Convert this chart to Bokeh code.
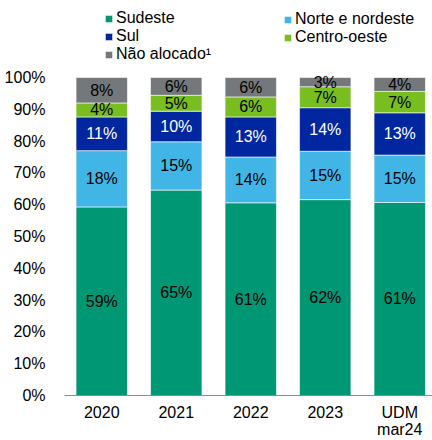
from bokeh.plotting import figure
from bokeh.models import ColumnDataSource, Legend, LegendItem, FixedTicker, PrintfTickFormatter
from bokeh.embed import file_html
from bokeh.resources import INLINE
from bokeh.core.properties import value

categories = ["2020", "2021", "2022", "2023", "UDM\nmar24"]
series = ["Sudeste", "Norte e nordeste", "Sul", "Centro-oeste", "Não alocado¹"]
sudeste = [59.3, 64.6, 60.6, 61.6, 60.7]
norte = [17.7, 15.2, 14.4, 15.2, 14.9]
sul = [10.6, 9.6, 12.6, 13.7, 13.3]
centro = [4.4, 5.0, 6.3, 6.6, 6.7]
nao_alocado = [8.0, 5.6, 6.1, 2.9, 4.4]
y_ticks = [0, 10, 20, 30, 40, 50, 60, 70, 80, 90, 100]

colors = ["#009775", "#41B6E6", "#0026A0", "#78BE20", "#75787B"]
label_colors = ["#000000", "#000000", "#ffffff", "#000000", "#000000"]
FONT = "Liberation Sans"
FS = "16px"

values = [sudeste, norte, sul, centro, nao_alocado]
keys = ["s0", "s1", "s2", "s3", "s4"]
xs = list(range(len(categories)))
data = {"x": xs}
for k, v in zip(keys, values):
    data[k] = v
source = ColumnDataSource(data)

W, H = 432, 440
BL, BB = 64, 45
frame_w = W - BL
frame_h = H - BB
pitch = 74.5
top_px = 77  # where 100% sits
px_per_unit = (frame_h - top_px) / 100.0

p = figure(width=W, height=H, output_backend="svg", toolbar_location=None,
           x_range=(-0.5, -0.5 + frame_w / pitch), y_range=(0, frame_h / px_per_unit),
           min_border_left=BL, min_border_right=0, min_border_top=0, min_border_bottom=BB)
p.outline_line_color = None
p.xgrid.grid_line_color = None
p.ygrid.grid_line_color = None
p.background_fill_color = "white"
p.border_fill_color = "white"

renderers = p.vbar_stack(keys, x="x", width=0.69, color=colors, source=source,
                         line_color="white", line_width=0.6)

# segment labels
lx, ly, lt, lc = [], [], [], []
for i in xs:
    bottom = 0.0
    for j, v in enumerate(values):
        lx.append(i)
        ly.append(bottom + v[i] / 2)
        lt.append(f"{v[i]:.0f}%")
        lc.append(label_colors[j])
        bottom += v[i]
lsrc = ColumnDataSource(dict(x=lx, y=ly, t=lt, c=lc))
p.text(x="x", y="y", text="t", text_color="c", source=lsrc, text_align="center",
       text_baseline="middle", text_font=value(FONT), text_font_size=FS)

# axes
p.xaxis.ticker = FixedTicker(ticks=xs)
p.xaxis.major_label_overrides = {i: c for i, c in zip(xs, categories)}
p.xaxis.major_tick_line_color = None
p.xaxis.minor_tick_line_color = None
p.xaxis.axis_line_color = "#8c8c8c"
p.xaxis.axis_line_width = 1
p.xaxis.major_label_text_font = FONT
p.xaxis.major_label_text_font_size = FS
p.xaxis.major_label_text_line_height = 1.0
p.xaxis.major_label_text_color = "#000000"
p.xaxis.major_label_standoff = 2

p.yaxis.ticker = FixedTicker(ticks=y_ticks)
p.yaxis.formatter = PrintfTickFormatter(format="%d%%")
p.yaxis.axis_line_color = None
p.yaxis.major_tick_line_color = None
p.yaxis.minor_tick_line_color = None
p.yaxis.major_label_text_font = FONT
p.yaxis.major_label_text_font_size = FS
p.yaxis.major_label_text_color = "#000000"
p.yaxis.major_label_standoff = 13

def make_legend(idxs, loc):
    items = [LegendItem(label=series[i], renderers=[renderers[i]]) for i in idxs]
    lg = Legend(items=items, location=loc, orientation="vertical",
                padding=0, margin=0, spacing=-2, border_line_color=None,
                background_fill_alpha=0, glyph_width=9, glyph_height=9,
                label_standoff=3, label_height=16,
                label_text_font=FONT, label_text_font_size=FS,
                label_text_color="#000000")
    return lg

p.add_layout(make_legend([0, 2, 4], (40, frame_h - 63)))
p.add_layout(make_legend([1, 3], (219, frame_h - 46)))

open("out.html", "w").write(file_html(p, INLINE))
